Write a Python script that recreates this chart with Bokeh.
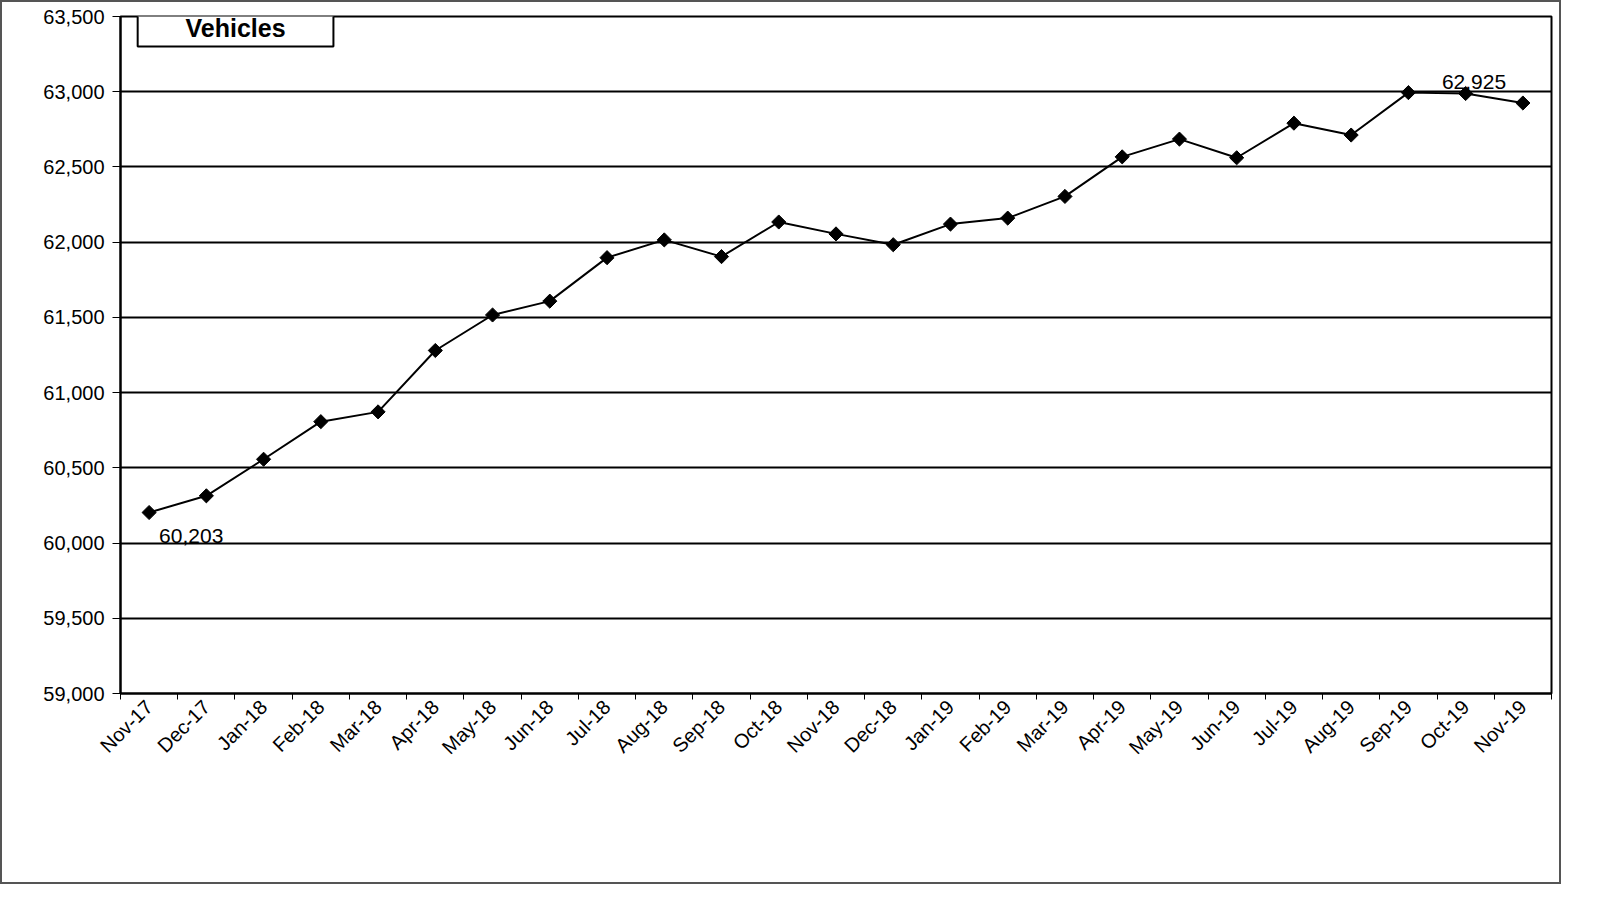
import numpy as np
from bokeh.plotting import figure
from bokeh.models import FixedTicker, Label, Range1d, NumeralTickFormatter, Column
from bokeh.embed import file_html
from bokeh.resources import INLINE

months = ["Nov-17","Dec-17","Jan-18","Feb-18","Mar-18","Apr-18","May-18","Jun-18","Jul-18","Aug-18",
          "Sep-18","Oct-18","Nov-18","Dec-18","Jan-19","Feb-19","Mar-19","Apr-19","May-19","Jun-19",
          "Jul-19","Aug-19","Sep-19","Oct-19","Nov-19"]
vehicles = [60203, 60314, 60557, 60807, 60872, 61280, 61516, 61608, 61897, 62015,
            61904, 62134, 62055, 61983, 62120, 62160, 62304, 62567, 62685, 62561,
            62791, 62712, 62994, 62988, 62925]
title_text = "Vehicles"

FONT = "Liberation Sans"
n = len(months)
xs = [i + 0.5 for i in range(n)]

p = figure(width=1557, height=880, output_backend="svg", toolbar_location=None,
           x_range=Range1d(0, n), y_range=Range1d(59000, 63500),
           min_border_left=118, min_border_right=8, min_border_top=14, min_border_bottom=189)
p.outline_line_color = "black"
p.outline_line_width = 2

p.xaxis.ticker = FixedTicker(ticks=xs, minor_ticks=list(range(n + 1)))
p.xaxis.major_label_overrides = {x: m for x, m in zip(xs, months)}
p.xaxis.major_label_orientation = np.pi / 4
p.xaxis.major_tick_out = 0
p.xaxis.major_tick_in = 0
p.xaxis.minor_tick_out = 6
p.xaxis.minor_tick_in = 0
p.xaxis.minor_tick_line_color = "black"
p.xaxis.axis_line_width = 2
p.xaxis.major_label_standoff = 4

p.yaxis.ticker = FixedTicker(ticks=list(range(59000, 63501, 500)))
p.yaxis.formatter = NumeralTickFormatter(format="0,0")
p.yaxis.major_tick_out = 8
p.yaxis.major_tick_in = 0
p.yaxis.minor_tick_out = 0
p.yaxis.axis_line_width = 2
p.yaxis.major_label_standoff = 8

for ax in (p.xaxis, p.yaxis):
    ax.major_label_text_font = FONT
    ax.major_label_text_font_size = "20px"
    ax.major_label_text_color = "black"
    ax.axis_line_color = "black"
    ax.major_tick_line_color = "black"

p.xgrid.grid_line_color = None
p.ygrid.grid_line_color = "black"
p.ygrid.grid_line_width = 2
p.ygrid.grid_line_alpha = 1

p.line(xs, vehicles, line_color="black", line_width=2)
p.scatter(xs, vehicles, marker="square", angle=np.pi / 4, size=10, color="black")

p.add_layout(Label(x=xs[0], y=vehicles[0], text=f"{vehicles[0]:,}", x_offset=10, y_offset=-30,
                   text_font=FONT, text_font_size="21px", text_color="black"))
p.add_layout(Label(x=xs[-1], y=vehicles[-1], text=f"{vehicles[-1]:,}", x_offset=-81, y_offset=14,
                   text_font=FONT, text_font_size="21px", text_color="black"))

p.quad(left=[0.3], right=[3.72], bottom=[63300], top=[63700], fill_color="white",
       line_color="black", line_width=2)
p.add_layout(Label(x=2.01, y=63330, text=title_text, text_align="center", text_baseline="bottom",
                   text_font=FONT, text_font_size="25px", text_font_style="bold",
                   text_color="black"))

page = Column(p, styles={"border": "2px solid #555"})
open("out.html", "w").write(file_html(page, INLINE))
